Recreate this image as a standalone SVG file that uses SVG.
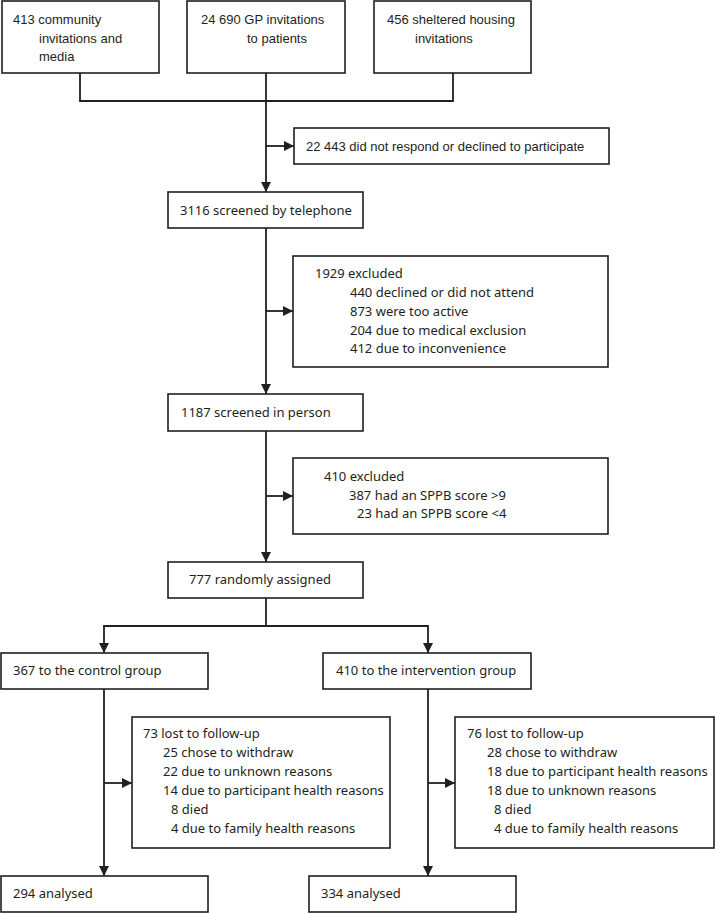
<svg xmlns="http://www.w3.org/2000/svg" width="715" height="913" viewBox="0 0 715 913">
<style>
.box{fill:#fff;stroke:#231f20;stroke-width:1.6}
.ln{fill:none;stroke:#231f20;stroke-width:1.8}
text{font-family:"Noto Sans","Liberation Sans",Arial,sans-serif;font-size:13px;fill:#231f20}
text.c{font-family:"Liberation Sans",Arial,sans-serif}
</style>
<defs>
<marker id="ah" viewBox="0 0 10 10" refX="10" refY="5" markerWidth="10" markerHeight="10" markerUnits="userSpaceOnUse" orient="auto">
<path d="M0,0 L10,5 L0,10 z" fill="#231f20"/>
</marker>
</defs>
<rect width="715" height="913" fill="#fff"/>
<g id="connectors">
<polyline class="ln" points="80,73 80,101 453,101 453,73"/>
<line class="ln" x1="266" y1="73" x2="266" y2="192" marker-end="url(#ah)"/>
<line class="ln" x1="266" y1="146" x2="294" y2="146" marker-end="url(#ah)"/>
<line class="ln" x1="266" y1="228" x2="266" y2="394" marker-end="url(#ah)"/>
<line class="ln" x1="266" y1="311" x2="293" y2="311" marker-end="url(#ah)"/>
<line class="ln" x1="266" y1="431" x2="266" y2="562" marker-end="url(#ah)"/>
<line class="ln" x1="266" y1="496" x2="293" y2="496" marker-end="url(#ah)"/>
<line class="ln" x1="266" y1="598" x2="266" y2="626"/>
<line class="ln" x1="104" y1="626" x2="428" y2="626"/>
<line class="ln" x1="104" y1="625" x2="104" y2="653" marker-end="url(#ah)"/>
<line class="ln" x1="428" y1="625" x2="428" y2="653" marker-end="url(#ah)"/>
<line class="ln" x1="104" y1="689" x2="104" y2="876" marker-end="url(#ah)"/>
<line class="ln" x1="104" y1="783" x2="132" y2="783" marker-end="url(#ah)"/>
<line class="ln" x1="428" y1="689" x2="428" y2="876" marker-end="url(#ah)"/>
<line class="ln" x1="428" y1="783" x2="455" y2="783" marker-end="url(#ah)"/>
</g>
<g id="n-community">
<rect class="box" x="2" y="1" width="157" height="72"/>
<text class="c" x="13" y="24">413 community</text>
<text class="c" x="39" y="43">invitations and</text>
<text class="c" x="39" y="61">media</text>
</g>
<g id="n-gp">
<rect class="box" x="187" y="1" width="158" height="72"/>
<text class="c" x="201" y="24">24 690 GP invitations</text>
<text class="c" x="247" y="43">to patients</text>
</g>
<g id="n-sheltered">
<rect class="box" x="374" y="1" width="157" height="72"/>
<text class="c" x="387" y="24">456 sheltered housing</text>
<text class="c" x="415" y="43">invitations</text>
</g>
<g id="n-declined">
<rect class="box" x="294" y="128" width="315" height="36"/>
<text class="c" x="306" y="151">22 443 did not respond or declined to participate</text>
</g>
<g id="n-telephone">
<rect class="box" x="168" y="192" width="195" height="36"/>
<text x="180" y="215">3116 screened by telephone</text>
</g>
<g id="n-excluded1">
<rect class="box" x="293" y="256" width="315" height="111"/>
<text x="315" y="278">1929 excluded</text>
<text x="350" y="297">440 declined or did not attend</text>
<text x="350" y="316">873 were too active</text>
<text x="350" y="335">204 due to medical exclusion</text>
<text x="350" y="353">412 due to inconvenience</text>
</g>
<g id="n-person">
<rect class="box" x="168" y="394" width="195" height="37"/>
<text x="181" y="417">1187 screened in person</text>
</g>
<g id="n-excluded2">
<rect class="box" x="293" y="458" width="315" height="76"/>
<text x="324" y="481">410 excluded</text>
<text x="349" y="500">387 had an SPPB score &gt;9</text>
<text x="357" y="518">23 had an SPPB score &lt;4</text>
</g>
<g id="n-random">
<rect class="box" x="168" y="562" width="195" height="36"/>
<text x="189" y="584">777 randomly assigned</text>
</g>
<g id="n-control">
<rect class="box" x="1" y="653" width="207" height="36"/>
<text x="13" y="675">367 to the control group</text>
</g>
<g id="n-intervention">
<rect class="box" x="323" y="653" width="208" height="36"/>
<text x="336" y="675">410 to the intervention group</text>
</g>
<g id="n-lost-control">
<rect class="box" x="132" y="717" width="258" height="131"/>
<text x="143" y="738">73 lost to follow-up</text>
<text x="163" y="757">25 chose to withdraw</text>
<text x="163" y="776">22 due to unknown reasons</text>
<text x="163" y="795">14 due to participant health reasons</text>
<text x="171" y="814">8 died</text>
<text x="171" y="833">4 due to family health reasons</text>
</g>
<g id="n-lost-intervention">
<rect class="box" x="455" y="717" width="259" height="131"/>
<text x="467" y="738">76 lost to follow-up</text>
<text x="487" y="757">28 chose to withdraw</text>
<text x="487" y="776">18 due to participant health reasons</text>
<text x="487" y="795">18 due to unknown reasons</text>
<text x="494" y="814">8 died</text>
<text x="494" y="833">4 due to family health reasons</text>
</g>
<g id="n-analysed-control">
<rect class="box" x="1" y="876" width="207" height="36"/>
<text x="13" y="898">294 analysed</text>
</g>
<g id="n-analysed-intervention">
<rect class="box" x="309" y="876" width="207" height="36"/>
<text x="321" y="898">334 analysed</text>
</g>
</svg>
